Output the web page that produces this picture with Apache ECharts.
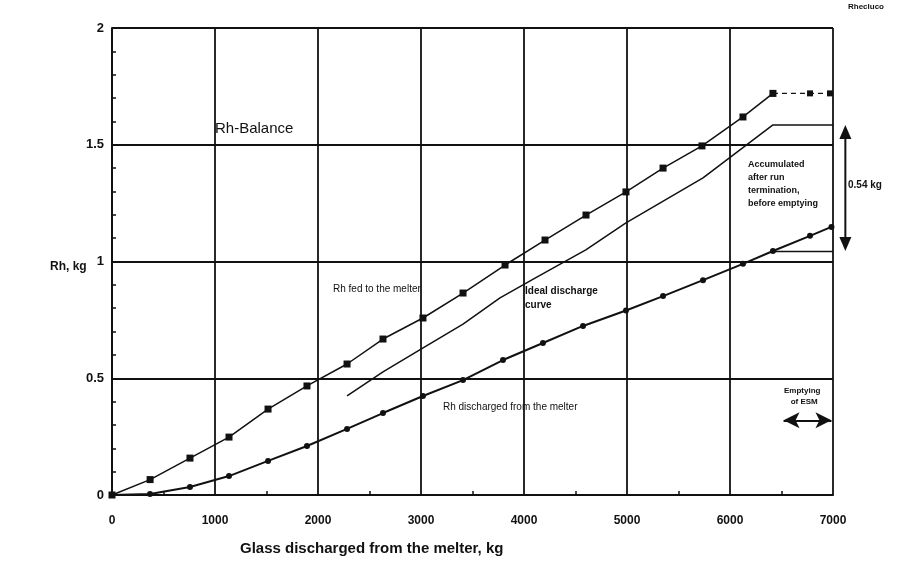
<!DOCTYPE html>
<html><head><meta charset="utf-8">
<script src="https://cdn.jsdelivr.net/npm/echarts@6/dist/echarts.min.js"></script>
<style>html,body{margin:0;padding:0;background:#fff}#c{width:905px;height:569px}</style>
</head><body><div id="c"></div>
<script>
// Data
const fedX   = [0, 370, 757, 1136, 1515, 1893, 2282, 2631, 3019, 3408, 3816, 4204, 4602, 4990, 5350, 5728, 6126, 6417];
const fedY   = [0, 0.066, 0.158, 0.248, 0.368, 0.467, 0.561, 0.668, 0.758, 0.865, 0.985, 1.092, 1.199, 1.298, 1.40, 1.495, 1.619, 1.72];
const fedTailX = [6417, 6777, 6971];
const fedTailY = [1.72, 1.72, 1.72];
const idealX = [2282, 2631, 3000, 3408, 3767, 4107, 4600, 4990, 5738, 6417, 7000];
const idealY = [0.424, 0.527, 0.625, 0.732, 0.844, 0.929, 1.05, 1.165, 1.358, 1.585, 1.585];
const disX   = [0, 369, 757, 1136, 1515, 1893, 2282, 2631, 3019, 3408, 3796, 4184, 4573, 4990, 5350, 5738, 6126, 6417, 6777, 6985];
const disY   = [0, 0.004, 0.034, 0.081, 0.146, 0.21, 0.283, 0.351, 0.424, 0.492, 0.578, 0.651, 0.724, 0.79, 0.852, 0.92, 0.99, 1.045, 1.11, 1.148];
const xTicks = [0, 1000, 2000, 3000, 4000, 5000, 6000, 7000];
const yTicks = [0, 0.5, 1, 1.5, 2];
const accumulatedTop = 1.585, accumulatedBottom = 1.045;
const accArrowX = 7120;
const emptyStart = 6520, emptyEnd = 6985, emptyY = 0.32;

const zip = (a, b) => a.map((v, i) => [v, b[i]]);
const F = 'Liberation Sans, Arial, sans-serif';
const ink = '#111';

const chart = echarts.init(document.getElementById('c'));
chart.setOption({
  backgroundColor: '#fff',
  animation: false,
  grid: { left: 112, right: 72, top: 28, bottom: 74 },
  xAxis: {
    type: 'value', min: xTicks[0], max: xTicks[xTicks.length - 1], interval: 1000,
    axisLine: { lineStyle: { color: ink, width: 2 } },
    axisTick: { show: false, inside: true },
    minorTick: { show: true, splitNumber: 2, length: 4, lineStyle: { color: ink, width: 1.5 } },
    splitLine: { show: true, lineStyle: { color: ink, width: 1.8 } },
    axisLabel: { color: ink, fontFamily: F, fontWeight: 'bold', fontSize: 12, margin: 20,
      formatter: v => String(v) }
  },
  yAxis: {
    type: 'value', min: yTicks[0], max: yTicks[yTicks.length - 1], interval: 0.5,
    axisLine: { show: true, lineStyle: { color: ink, width: 2 } },
    axisTick: { show: false, inside: true },
    minorTick: { show: true, splitNumber: 5, length: 4, lineStyle: { color: ink, width: 1.5 } },
    splitLine: { show: true, lineStyle: { color: ink, width: 1.8 } },
    axisLabel: { color: ink, fontFamily: F, fontWeight: 'bold', fontSize: 13, margin: 8,
      formatter: v => String(v) }
  },
  series: [
    { name: 'fed', type: 'line', data: zip(fedX, fedY), symbol: 'rect', symbolSize: 7,
      lineStyle: { color: ink, width: 1.5 }, itemStyle: { color: ink } },
    { name: 'fedTail', type: 'line', data: zip(fedTailX, fedTailY), symbol: 'rect', symbolSize: 6,
      lineStyle: { color: ink, width: 1.3, type: [5, 4] }, itemStyle: { color: ink } },
    { name: 'ideal', type: 'line', data: zip(idealX, idealY), symbol: 'none',
      lineStyle: { color: ink, width: 1.5 } },
    { name: 'discharged', type: 'line', data: zip(disX, disY), symbol: 'circle', symbolSize: 6,
      lineStyle: { color: ink, width: 2 }, itemStyle: { color: ink },
      markLine: {
        silent: true, symbol: ['none', 'none'], label: { show: false },
        lineStyle: { color: ink, width: 1.3, type: 'solid' },
        data: [ [ { coord: [disX[17], accumulatedBottom] }, { coord: [7000, accumulatedBottom] } ] ]
      }
    },
    { name: 'arrows', type: 'line', data: [], symbol: 'none',
      markLine: {
        silent: true, symbol: ['arrow', 'arrow'], symbolSize: [12, 16], label: { show: false },
        lineStyle: { color: ink, width: 2, type: 'solid' },
        data: [
          [ { coord: [emptyStart, emptyY] }, { coord: [emptyEnd, emptyY] } ]
        ]
      }
    }
  ]
});

// vertical 0.54 kg arrow, placed outside the plot via the chart's own scale
const pTop = chart.convertToPixel({ gridIndex: 0 }, [accArrowX, accumulatedTop]);
const pBot = chart.convertToPixel({ gridIndex: 0 }, [accArrowX, accumulatedBottom]);
const ah = 14, aw = 6;
chart.setOption({
  graphic: [
    { type: 'line', shape: { x1: pTop[0], y1: pTop[1] + ah, x2: pBot[0], y2: pBot[1] - ah }, style: { stroke: ink, lineWidth: 2 } },
    { type: 'polygon', shape: { points: [[pTop[0], pTop[1]], [pTop[0] - aw, pTop[1] + ah], [pTop[0] + aw, pTop[1] + ah]] }, style: { fill: ink } },
    { type: 'polygon', shape: { points: [[pBot[0], pBot[1]], [pBot[0] - aw, pBot[1] - ah], [pBot[0] + aw, pBot[1] - ah]] }, style: { fill: ink } },
    { type: 'text', left: 848, top: 3, style: { text: 'Rhecluco', font: 'bold 8px ' + F, fill: ink } },
    { type: 'text', left: 215, top: 121, style: { text: 'Rh-Balance', font: '15px ' + F, fill: ink } },
    { type: 'text', left: 50, top: 261, style: { text: 'Rh, kg', font: 'bold 12px ' + F, fill: ink } },
    { type: 'text', left: 333, top: 284, style: { text: 'Rh fed to the melter', font: '10px ' + F, fill: ink } },
    { type: 'text', left: 525, top: 284, style: { text: 'Ideal discharge\ncurve', font: 'bold 10px ' + F, fill: ink, lineHeight: 14 } },
    { type: 'text', left: 443, top: 402, style: { text: 'Rh discharged from the melter', font: '10px ' + F, fill: ink } },
    { type: 'text', left: 748, top: 158, style: { text: 'Accumulated\nafter run\ntermination,\nbefore emptying', font: 'bold 9px ' + F, fill: ink, lineHeight: 13 } },
    { type: 'text', left: 848, top: 180, style: { text: '0.54 kg', font: 'bold 10px ' + F, fill: ink } },
    { type: 'text', left: 784, top: 385, style: { text: 'Emptying\n   of ESM', font: 'bold 8px ' + F, fill: ink, lineHeight: 11 } },
    { type: 'text', left: 240, top: 541, style: { text: 'Glass discharged from the melter, kg', font: 'bold 15px ' + F, fill: ink } }
  ]
});
</script></body></html>
